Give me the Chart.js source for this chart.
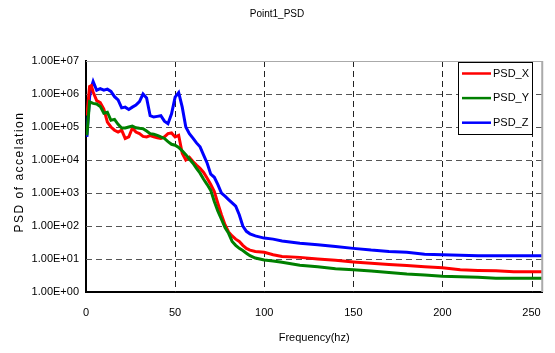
<!DOCTYPE html>
<html>
<head>
<meta charset="utf-8">
<script src="https://cdn.jsdelivr.net/npm/chart.js@4"></script>
<style>
	html, body { margin: 0; padding: 0; background: #fff; }
	#wrap { width: 555px; height: 353px; }
</style>
</head>
<body>
<div id="wrap"><canvas id="chart"></canvas></div>
<script>
const freq = [0.5, 2, 3, 4, 6, 8, 10, 12, 14, 16, 18, 20, 22, 24, 26, 28, 30, 32, 34, 36, 38, 40, 42, 44, 46, 48, 50, 52, 54, 56, 58, 60, 62, 64, 66, 68, 70, 72, 74, 76, 78, 80, 82, 84, 86, 88, 90, 92, 95, 100, 105, 110, 120, 130, 140, 150, 160, 170, 180, 190, 200, 210, 220, 230, 240, 256];

const psdX = [2.2e5, 1.7e6, 1.8e6, 1.15e6, 6.3e5, 5.5e5, 3.5e5, 1.4e5, 1e5, 8e4, 7e4, 8e4, 4.5e4, 5e4, 9.3e4, 7e4, 6.3e4, 5.2e4, 5e4, 5.5e4, 5e4, 4.7e4, 4.5e4, 5e4, 6.3e4, 6.6e4, 5e4, 5.6e4, 1.6e4, 1e4, 1.2e4, 9e3, 7e3, 5.6e3, 4.2e3, 2.8e3, 1.8e3, 1.1e3, 4.8e2, 2.2e2, 110, 66, 50, 40, 34, 26, 21, 18.6, 17, 16, 13.5, 12, 11.2, 10, 9.1, 8.1, 7.4, 6.8, 6.3, 5.8, 5.4, 4.7, 4.5, 4.4, 4.1, 4.1];

const psdY = [5.6e4, 5.8e5, 5.5e5, 5.2e5, 5e5, 4.2e5, 2.6e5, 2.8e5, 1.6e5, 1.7e5, 1.2e5, 9.3e4, 9.3e4, 1e5, 1.07e5, 9.5e4, 9.1e4, 8.9e4, 7.6e4, 6.3e4, 6e4, 5.6e4, 5e4, 4.5e4, 3.6e4, 3e4, 2.8e4, 2.4e4, 1.9e4, 1.45e4, 1.07e4, 8e3, 5.6e3, 4e3, 2.6e3, 1.8e3, 1.2e3, 5.5e2, 2.8e2, 160, 89, 60, 34, 26, 21, 18, 15, 12.6, 10.7, 9.3, 8.7, 8, 6.5, 5.8, 5.1, 4.7, 4.3, 3.9, 3.5, 3.3, 3.0, 2.9, 2.8, 2.6, 2.6, 2.6];

const psdZ = [5e4, 8e5, 1.6e6, 2.4e6, 1.3e6, 1.45e6, 1.3e6, 1.4e6, 1.2e6, 8.3e5, 6.6e5, 3.8e5, 4e5, 3.4e5, 4e5, 4.6e5, 5.9e5, 1e6, 7.6e5, 2.2e5, 2e5, 2.1e5, 2.2e5, 1.5e5, 1.26e5, 2.5e5, 8e5, 1.1e6, 4e5, 1e5, 6.3e4, 4.6e4, 3.3e4, 2.5e4, 1.4e4, 8e3, 3.7e3, 3e3, 1.8e3, 1e3, 800, 630, 500, 400, 220, 100, 69, 58, 50, 43, 40, 35, 30, 27, 24, 21, 18.6, 17, 16, 14, 13.5, 13, 12.6, 12.5, 12.5, 12.5];

const yTicks = [1, 10, 100, 1e3, 1e4, 1e5, 1e6, 1e7];
const xTicks = [0, 50, 100, 150, 200, 250];

const FONT = "'Liberation Sans', Arial, sans-serif";

const toPoints = (ys) => freq.map((f, i) => ({ x: f, y: ys[i] }));

const sci = (v) => {
	const e = Math.round(Math.log10(v));
	return `1.00E+${String(e).padStart(2, '0')}`;
};

// dashed grid, drawn from the scales' own ticks
const dashGrid = {
	id: 'dashGrid',
	beforeDatasetsDraw(chart) {
		const { ctx, chartArea: a, scales } = chart;
		ctx.save();
		ctx.lineWidth = 1;
		ctx.setLineDash([6, 4]);
		ctx.strokeStyle = '#555';
		scales.y.ticks.forEach((t) => {
			const y = Math.round(scales.y.getPixelForValue(t.value)) + 0.5;
			if (y < a.top + 2 || y > a.bottom - 2) return;
			ctx.beginPath();
			ctx.moveTo(a.left, y);
			ctx.lineTo(a.right, y);
			ctx.stroke();
		});
		ctx.strokeStyle = '#222';
		scales.x.ticks.forEach((t) => {
			const x = Math.round(scales.x.getPixelForValue(t.value)) + 0.5;
			if (x < a.left + 2) return;
			ctx.beginPath();
			ctx.moveTo(x, a.top);
			ctx.lineTo(x, a.bottom);
			ctx.stroke();
		});
		ctx.restore();
	}
};

// title, axis titles, frame and legend box
const decor = {
	id: 'decor',
	afterDraw(chart) {
		const { ctx, chartArea: a } = chart;
		ctx.save();

		ctx.strokeStyle = '#aaaaaa';
		ctx.lineWidth = 1;
		ctx.beginPath();
		ctx.moveTo(a.left, a.top + 0.5);
		ctx.lineTo(a.right, a.top + 0.5);
		ctx.stroke();
		ctx.lineWidth = 2;
		ctx.beginPath();
		ctx.moveTo(a.right, a.top);
		ctx.lineTo(a.right, a.bottom);
		ctx.stroke();

		ctx.fillStyle = '#000';
		ctx.textAlign = 'center';
		ctx.textBaseline = 'middle';
		ctx.font = `10px ${FONT}`;
		ctx.fillText('Point1_PSD', 277, 14);

		ctx.font = `11px ${FONT}`;
		ctx.fillText('Frequency(hz)', (a.left + a.right) / 2, 338);

		ctx.save();
		ctx.translate(20, 172);
		ctx.rotate(-Math.PI / 2);
		ctx.font = `12px ${FONT}`;
		ctx.letterSpacing = '1.5px';
		ctx.fillText('PSD of accelation', 0, 0);
		ctx.restore();

		// legend
		const bx = 458, by = 62, bw = 74, bh = 72;
		ctx.fillStyle = '#fff';
		ctx.fillRect(bx, by, bw, bh);
		ctx.strokeStyle = '#000';
		ctx.lineWidth = 1;
		ctx.strokeRect(bx + 0.5, by + 0.5, bw, bh);
		ctx.textAlign = 'left';
		ctx.font = `11px ${FONT}`;
		chart.data.datasets.forEach((ds, i) => {
			const y = 73.5 + i * 24.6;
			ctx.strokeStyle = ds.borderColor;
			ctx.lineWidth = 2.5;
			ctx.beginPath();
			ctx.moveTo(462, y);
			ctx.lineTo(491, y);
			ctx.stroke();
			ctx.fillStyle = '#000';
			ctx.fillText(ds.label, 493, y);
		});

		ctx.restore();
	}
};

new Chart(document.getElementById('chart'), {
	type: 'line',
	data: {
		datasets: [
			{ label: 'PSD_X', data: toPoints(psdX), borderColor: '#ff0000', borderWidth: 3, order: 1 },
			{ label: 'PSD_Y', data: toPoints(psdY), borderColor: '#008000', borderWidth: 3, order: 0 },
			{ label: 'PSD_Z', data: toPoints(psdZ), borderColor: '#0000ff', borderWidth: 3, order: 2 }
		]
	},
	options: {
		responsive: true,
		maintainAspectRatio: false,
		animation: false,
		layout: { padding: { top: 61, right: 12, left: 0, bottom: 0 } },
		elements: {
			point: { radius: 0 },
			line: { tension: 0, fill: false }
		},
		plugins: {
			legend: { display: false },
			title: { display: false },
			tooltip: { enabled: false }
		},
		scales: {
			x: {
				type: 'linear',
				min: 0,
				max: 256,
				afterBuildTicks: (scale) => { scale.ticks = xTicks.map((v) => ({ value: v })); },
				afterFit: (scale) => { scale.height = 61; },
				grid: { display: false, drawTicks: false },
				border: { color: '#000', width: 2 },
				ticks: { color: '#000', padding: 14, font: { family: FONT, size: 11 } }
			},
			y: {
				type: 'logarithmic',
				min: 1,
				max: 1e7,
				afterBuildTicks: (scale) => { scale.ticks = yTicks.map((v) => ({ value: v })); },
				afterFit: (scale) => { scale.width = 86; },
				grid: { display: false, drawTicks: false },
				border: { color: '#000', width: 2 },
				ticks: { color: '#000', padding: 7, font: { family: FONT, size: 11 }, callback: (v) => sci(v) }
			}
		}
	},
	plugins: [dashGrid, decor]
});
</script>
</body>
</html>
